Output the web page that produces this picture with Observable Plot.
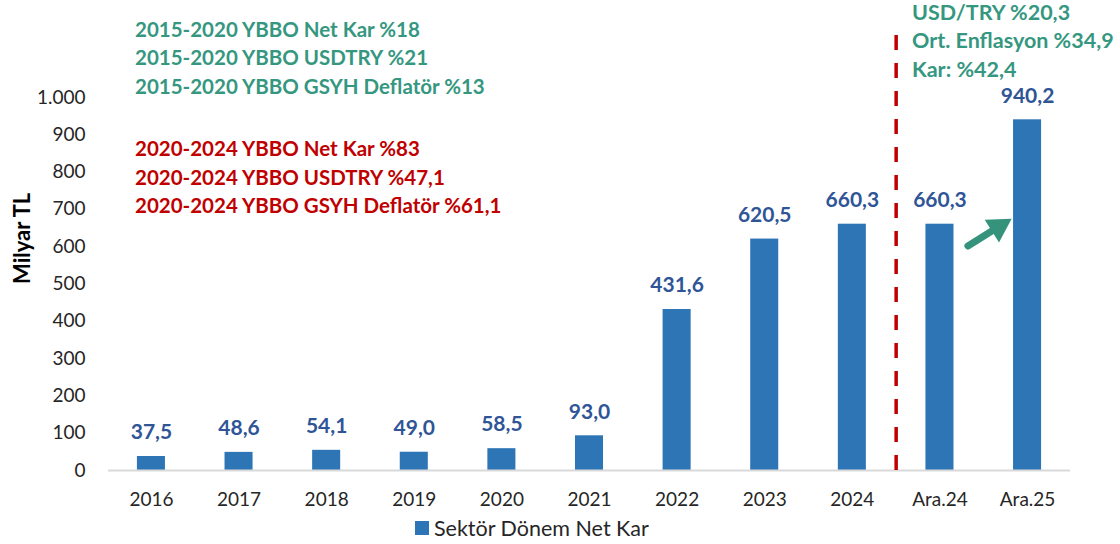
<!DOCTYPE html>
<html>
<head>
<meta charset="utf-8">
<script src="https://cdn.jsdelivr.net/npm/d3@7"></script>
<script src="https://cdn.jsdelivr.net/npm/@observablehq/plot@0.6"></script>
<style>
  html, body { margin: 0; padding: 0; background: #fff; }
  #wrap { position: relative; width: 1120px; height: 544px; overflow: hidden; font-family: Lato, "Open Sans", sans-serif; }
  #chart { position: absolute; left: 0; top: 0; }
  .note { position: absolute; font-weight: bold; font-size: 20.5px; line-height: 28.7px; white-space: nowrap; }
  .teal { color: #35977f; }
  .red { color: #c00000; }
  #legend { position: absolute; left: 415px; top: 516px; font-size: 21.5px; color: #262626; display: flex; align-items: center; gap: 5px; line-height: 24px; }
  #legend .sw { width: 14px; height: 14px; background: #2e75b6; display: inline-block; }
</style>
</head>
<body>
<div id="wrap">
  <div id="chart"></div>
  <div id="notesTeal" class="note teal" style="left:135px; top:14.5px;"></div>
  <div id="notesRed" class="note red" style="left:135px; top:134px;"></div>
  <div id="notesRight" class="note teal" style="left:912px; top:-2.5px; font-size:21.5px;"></div>
  <div id="legend"><span class="sw"></span><span id="legendText"></span></div>
</div>
<script>
const categories = ["2016", "2017", "2018", "2019", "2020", "2021", "2022", "2023", "2024", "Ara.24", "Ara.25"];
const values = [37.5, 48.6, 54.1, 49.0, 58.5, 93.0, 431.6, 620.5, 660.3, 660.3, 940.2];
const yTicks = [0, 100, 200, 300, 400, 500, 600, 700, 800, 900, 1000];
const seriesName = "Sektör Dönem Net Kar";
const yLabel = "Milyar TL";
const tealNotes = ["2015-2020 YBBO Net Kar %18", "2015-2020 YBBO USDTRY %21", "2015-2020 YBBO GSYH Deflatör %13"];
const redNotes = ["2020-2024 YBBO Net Kar %83", "2020-2024 YBBO USDTRY %47,1", "2020-2024 YBBO GSYH Deflatör %61,1"];
const rightNotes = ["USD/TRY %20,3", "Ort. Enflasyon %34,9", "Kar: %42,4"];
// divider between last annual bar and interim periods
const dividerAfter = "2024";
const dividerTop = 1180;
// arrow between interim bars
const arrowFrom = {cat: "Ara.24", value: 555};
const arrowTo = {cat: "Ara.25", value: 702};

const data = categories.map((c, i) => ({cat: c, value: values[i]}));
const fmtVal = v => d3.format(".1f")(v).replace(".", ",");
const fmtTick = v => d3.format(",")(v).replace(/,/g, ".");

const W = 1120, H = 515, mL = 108, mR = 50, mT = 97, mB = 45;
const pIn = 0.68, pOut = 0.33;
const step = (W - mL - mR) / (categories.length - pIn + 2 * pOut);

const arrowColor = "#35937c";
const chart = Plot.plot({
  width: W, height: H,
  marginLeft: mL, marginRight: mR, marginTop: mT, marginBottom: mB,
  style: {fontFamily: "Lato, 'Open Sans', sans-serif", fontSize: "19px", color: "#262626", background: "transparent", overflow: "visible"},
  x: {domain: categories, paddingInner: pIn, paddingOuter: pOut, round: false, label: null, tickSize: 0, tickPadding: 22},
  y: {domain: [0, 1000], ticks: yTicks, tickFormat: fmtTick, tickSize: 0, tickPadding: 23, label: null},
  marks: [
    Plot.barY(data, {x: "cat", y: "value", fill: "#2e75b6"}),
    Plot.ruleY([0], {stroke: "#d9d9d9", strokeWidth: 2}),
    Plot.text(data, {x: "cat", y: "value", text: d => fmtVal(d.value), dy: -24, fontWeight: "bold", fill: "#2f5597", fontSize: 21}),
    Plot.ruleX([dividerAfter], {dx: step / 2, y1: 0, y2: dividerTop, stroke: "#c00000", strokeWidth: 3.5, strokeDasharray: "15,13"}),
    // arrow shaft
    Plot.arrow([{x1: arrowFrom.cat, y1: arrowFrom.value, x2: arrowTo.cat, y2: arrowTo.value}], {
      x1: "x1", y1: "y1", x2: "x2", y2: "y2", stroke: arrowColor, strokeWidth: 7,
      insetStart: 33, insetEnd: 37, headLength: 0
    }),
    // arrow head
    Plot.dot([arrowTo], {x: "cat", y: "value", symbol: "triangle", r: 10, rotate: 58, fill: arrowColor, stroke: null, dx: -29.1, dy: 18.3}),
    Plot.text([yLabel], {frameAnchor: "left", dx: -86, rotate: -90, fontWeight: "bold", fontSize: 22, fill: "#000"})
  ]
});
document.getElementById("chart").appendChild(chart);

document.getElementById("notesTeal").innerHTML = tealNotes.map(t => `<div>${t}</div>`).join("");
document.getElementById("notesRed").innerHTML = redNotes.map(t => `<div>${t}</div>`).join("");
document.getElementById("notesRight").innerHTML = rightNotes.map(t => `<div>${t}</div>`).join("");
document.getElementById("legendText").textContent = seriesName;
</script>
</body>
</html>
